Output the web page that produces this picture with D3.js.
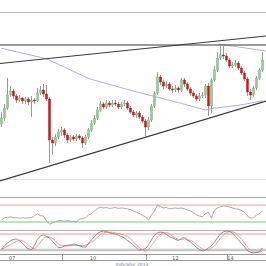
<!DOCTYPE html>
<html>
<head>
<meta charset="utf-8">
<script src="https://cdn.jsdelivr.net/npm/d3@7"></script>
<style>
  html, body { margin: 0; padding: 0; background: #fff; }
  svg { display: block; font-family: "DejaVu Sans", sans-serif; }
</style>
</head>
<body>
<div id="chart"></div>
<script>
// Candles (price, 88 bars)
const opens = [1.276,1.282,1.292,1.305,1.309,1.304,1.300,1.302,1.299,1.301,1.298,1.300,1.299,1.307,1.310,1.306,1.301,1.260,1.257,1.263,1.268,1.270,1.265,1.260,1.263,1.261,1.264,1.262,1.257,1.263,1.270,1.277,1.282,1.290,1.296,1.293,1.297,1.295,1.297,1.296,1.293,1.296,1.297,1.292,1.288,1.285,1.287,1.283,1.279,1.273,1.280,1.294,1.307,1.323,1.318,1.314,1.316,1.311,1.310,1.312,1.310,1.320,1.316,1.311,1.307,1.304,1.301,1.304,1.305,1.314,1.294,1.320,1.330,1.342,1.345,1.344,1.340,1.334,1.335,1.337,1.332,1.327,1.321,1.308,1.305,1.312,1.322,1.330];
const closes = [1.282,1.292,1.305,1.309,1.304,1.300,1.302,1.299,1.301,1.298,1.300,1.299,1.307,1.310,1.306,1.301,1.260,1.257,1.263,1.268,1.270,1.265,1.260,1.263,1.261,1.264,1.262,1.257,1.263,1.270,1.277,1.282,1.290,1.296,1.293,1.297,1.295,1.297,1.296,1.293,1.296,1.297,1.292,1.288,1.285,1.287,1.283,1.279,1.273,1.280,1.294,1.307,1.323,1.318,1.314,1.316,1.311,1.310,1.312,1.310,1.320,1.316,1.311,1.307,1.304,1.301,1.304,1.305,1.314,1.294,1.320,1.330,1.342,1.345,1.344,1.340,1.334,1.335,1.337,1.332,1.327,1.321,1.308,1.305,1.312,1.322,1.330,1.340];
const highs = [1.288,1.296,1.322,1.314,1.311,1.306,1.305,1.303,1.303,1.303,1.304,1.302,1.312,1.314,1.316,1.315,1.303,1.263,1.266,1.271,1.273,1.272,1.267,1.265,1.265,1.266,1.266,1.264,1.265,1.272,1.280,1.285,1.293,1.299,1.298,1.300,1.299,1.300,1.300,1.298,1.298,1.300,1.299,1.294,1.290,1.289,1.289,1.285,1.281,1.283,1.296,1.309,1.328,1.325,1.320,1.319,1.318,1.314,1.315,1.314,1.322,1.322,1.318,1.313,1.309,1.306,1.307,1.308,1.316,1.317,1.322,1.334,1.348,1.355,1.354,1.347,1.342,1.338,1.340,1.339,1.334,1.329,1.323,1.311,1.314,1.324,1.332,1.348];
const lows = [1.273,1.279,1.290,1.303,1.301,1.297,1.298,1.296,1.296,1.295,1.283,1.296,1.298,1.305,1.303,1.299,1.237,1.245,1.254,1.261,1.264,1.262,1.257,1.258,1.259,1.259,1.260,1.252,1.255,1.261,1.268,1.275,1.280,1.288,1.291,1.291,1.293,1.293,1.294,1.291,1.291,1.294,1.290,1.286,1.283,1.282,1.281,1.277,1.263,1.270,1.278,1.292,1.305,1.315,1.311,1.312,1.309,1.307,1.308,1.307,1.308,1.313,1.309,1.304,1.302,1.299,1.299,1.302,1.302,1.284,1.287,1.318,1.328,1.340,1.341,1.338,1.332,1.332,1.333,1.330,1.325,1.319,1.304,1.300,1.303,1.310,1.320,1.328];

// Moving average (blue)
const movingAvg = [1.3517,1.3510,1.3503,1.3496,1.3489,1.3482,1.3475,1.3468,1.3461,1.3454,1.3447,1.3440,1.3433,1.3426,1.3419,1.3412,1.3398,1.3384,1.3370,1.3356,1.3342,1.3328,1.3314,1.3300,1.3286,1.3272,1.3258,1.3244,1.3230,1.3216,1.3206,1.3198,1.3190,1.3181,1.3173,1.3164,1.3156,1.3148,1.3139,1.3131,1.3122,1.3114,1.3106,1.3097,1.3089,1.3081,1.3073,1.3066,1.3058,1.3050,1.3043,1.3035,1.3027,1.3020,1.3012,1.3004,1.2997,1.2989,1.2981,1.2974,1.2966,1.2958,1.2949,1.2941,1.2932,1.2924,1.2916,1.2907,1.2900,1.2905,1.2914,1.2920,1.2922,1.2926,1.2930,1.2933,1.2937,1.2940,1.2944,1.2947,1.2952,1.2957,1.2963,1.2969,1.2975,1.2981,1.2986,1.2992];

// RSI and stochastic (%K gray, %D red)
const rsi = [35,40,41,42,40,40,39,40,39,40,40,45,49,45,44,32,25,28,31,33,33,32,33,32,31,30,37,38,40,46,50,56,62,65,63,64,62,63,64,62,63,62,61,59,56,53,50,46,42,35,47,56,70,66,63,64,61,62,63,62,63,61,58,56,52,47,44,42,50,53,39,58,63,66,68,67,65,63,61,60,57,53,44,39,40,46,50,56];
const stochK = [22,36,46,55,59,61,54,46,32,24,22,38,60,72,76,70,65,52,40,29,30,35,38,39,42,40,35,32,31,45,58,70,82,88,91,89,85,82,80,75,70,65,55,48,38,28,20,22,25,40,58,75,84,87,85,78,70,65,60,56,64,66,58,50,40,30,22,17,20,28,36,50,66,80,88,91,89,84,70,58,44,32,18,12,9,11,15,28];
const stochD = [22,28,34,40,46,52,57,55,48,38,30,25,35,50,63,69,69,63,54,42,38,35,35,36,37,37,37,36,38,42,50,57,68,78,84,86,87,86,84,82,79,75,70,62,50,38,28,20,16,22,38,52,68,78,84,85,80,72,65,60,59,62,58,56,50,40,32,24,20,20,28,35,50,64,76,84,89,88,84,72,60,46,30,20,13,12,12,16];

// Drawn lines: [startBar, startPrice, endBar, endPrice]
const resistanceFlat = [0, 1.355, 88.667, 1.355];
const upperTrend = [0, 1.3365, 88.667, 1.364];
const lowerTrend = [0, 1.219, 88.667, 1.299];
const peakLine = [72.67, 1.356, 88.667, 1.349];

// Time axis
const tickLabels = ["07", "10", "12", "14"];
const tickLabelBars = [4, 31, 58.5, 76.8];
const separatorBars = [20.8, 48.8, 75.8];
const footerText = "Indicator 2013";

const W = 266, H = 266;
const nBars = 88.667;

const svg = d3.select("#chart").append("svg")
  .attr("width", W).attr("height", H);

const x = d3.scaleLinear().domain([0, nBars]).range([0, W]);
const y = d3.scaleLinear().domain([1.220, 1.388]).range([180, 12]);
const yRsi = d3.scaleLinear().domain([30, 70]).range([222, 205]);
const yStoch = d3.scaleLinear().domain([20, 80]).range([250, 234]);

function hline(yy, color, w) {
  svg.append("line").attr("x1", 0).attr("x2", W)
    .attr("y1", yy).attr("y2", yy)
    .attr("stroke", color).attr("stroke-width", w || 1);
}

// panel frames
hline(12.5, "#b4b4b4", 1);
hline(179.5, "#e2e9e2", 1);
hline(197.5, "#a8a8a8", 1);
hline(230.5, "#b0b0b0", 1);

// MA
const bars = d3.range(closes.length);
svg.append("path")
  .datum(bars)
  .attr("fill", "none")
  .attr("stroke", "#a8a8f4")
  .attr("stroke-width", 1)
  .attr("d", d3.line().x(i => x(i + 0.5)).y(i => y(movingAvg[i])));

// drawn lines
function seg(s, color, w) {
  svg.append("line")
    .attr("x1", x(s[0])).attr("y1", y(s[1]))
    .attr("x2", x(s[2])).attr("y2", y(s[3]))
    .attr("stroke", color).attr("stroke-width", w);
}
seg(peakLine, "#b8b8b8", 1);
seg(resistanceFlat, "#3a3a3a", 1.2);
seg(upperTrend, "#3a3a3a", 1.2);
seg(lowerTrend, "#3a3a3a", 1.2);

// candles
const candle = svg.append("g").selectAll("g").data(bars).enter().append("g");
candle.append("line")
  .attr("x1", i => Math.round(x(i + 0.5)) + 0.5)
  .attr("x2", i => Math.round(x(i + 0.5)) + 0.5)
  .attr("y1", i => y(highs[i]))
  .attr("y2", i => y(lows[i]))
  .attr("stroke", "#9a9a9a").attr("stroke-width", 1);
candle.append("rect")
  .attr("x", i => Math.round(x(i + 0.5)) - 0.5)
  .attr("width", 2)
  .attr("y", i => y(Math.max(opens[i], closes[i])))
  .attr("height", i => Math.max(1, Math.abs(y(opens[i]) - y(closes[i]))))
  .attr("fill", i => closes[i] >= opens[i] ? "#8fd08f" : "#e01010")
  .attr("stroke", i => closes[i] >= opens[i] ? "#7aa07a" : "#a01010")
  .attr("stroke-width", 0.4);

// RSI panel
hline(yRsi(70), "#f2a0a0", 1);
hline(yRsi(30), "#84c484", 1.2);
svg.append("path")
  .datum(bars)
  .attr("fill", "none")
  .attr("stroke", "#a0a0a0")
  .attr("stroke-width", 0.9)
  .attr("d", d3.line().x(i => x(i + 0.5)).y(i => yRsi(rsi[i])));

// Stochastic panel
hline(yStoch(80), "#f09a9a", 1);
hline(yStoch(20), "#c8c8c8", 2.5);
svg.append("path")
  .datum(bars)
  .attr("fill", "none")
  .attr("stroke", "#f08a8a")
  .attr("stroke-width", 0.9)
  .attr("d", d3.line().curve(d3.curveMonotoneX).x(i => x(i + 0.5)).y(i => yStoch(stochD[i])));
svg.append("path")
  .datum(bars)
  .attr("fill", "none")
  .attr("stroke", "#808080")
  .attr("stroke-width", 0.9)
  .attr("d", d3.line().curve(d3.curveMonotoneX).x(i => x(i + 0.5)).y(i => yStoch(stochK[i])));

// time axis strip
hline(254.5, "#9a9a9a", 1);
hline(260.5, "#9a9a9a", 1);
svg.append("g").selectAll("line").data(separatorBars).enter().append("line")
  .attr("x1", d => Math.round(x(d)) + 0.5).attr("x2", d => Math.round(x(d)) + 0.5)
  .attr("y1", 254.5).attr("y2", 260.5)
  .attr("stroke", "#9a9a9a");
svg.append("g").selectAll("text").data(tickLabels).enter().append("text")
  .attr("x", (d, k) => x(tickLabelBars[k]))
  .attr("y", 259.6)
  .attr("text-anchor", "middle")
  .attr("font-size", 5)
  .attr("fill", "#555")
  .text(d => d);
svg.append("text")
  .attr("x", 132).attr("y", 265.5)
  .attr("text-anchor", "middle")
  .attr("font-size", 4.5)
  .attr("fill", "#777")
  .text(footerText);
</script>
</body>
</html>
